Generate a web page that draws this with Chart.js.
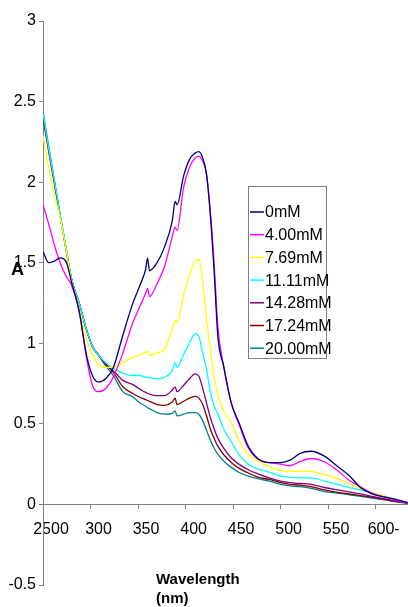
<!DOCTYPE html>
<html lang="en">
<head>
<meta charset="UTF-8">
<title>Absorbance spectra</title>
<script src="https://cdn.jsdelivr.net/npm/chart.js"></script>
<style>
    body { margin: 0; padding: 0; background: #fff; }
    #wrap { width: 408px; height: 607px; }
</style>
</head>
<body>
<div id="wrap"><canvas id="spectra" width="408" height="607"></canvas></div>
<script>
// wavelengths (nm) the spectra were read at
const wavelengths = [250,256,262,268,274,280,288,296,302,308, 316,324,334,344,352,358,360,362,370,378,
    386,389,391,398,404,410,414,418,422,426, 430,434,440,448,456,466,476,488,500,510,
    520,532,546,560,572,584,596,610,622,634];

const seriesNames = ['0mM', '4.00mM', '7.69mM', '11.11mM', '14.28mM', '17.24mM', '20.00mM'];
const seriesColors = ['#000080', '#FF00FF', '#FFFF00', '#00FFFF', '#800080', '#800000', '#008080'];

const abs0 = [1.57,1.50,1.51,1.53,1.51,1.38,1.20,0.92,0.80,0.76, 0.78,0.85,1.05,1.24,1.36,1.46,1.53,1.45,1.50,1.60,
    1.76,1.88,1.86,2.04,2.14,2.18,2.19,2.15,2.05,1.80, 1.45,1.04,0.86,0.63,0.51,0.36,0.285,0.26,0.26,0.275,
    0.315,0.33,0.30,0.235,0.18,0.105,0.065,0.045,0.03,0.01];
const abs400 = [1.86,1.74,1.61,1.50,1.42,1.36,1.20,0.90,0.74,0.70, 0.72,0.79,0.94,1.12,1.23,1.31,1.34,1.29,1.37,1.48,
    1.66,1.72,1.70,1.97,2.09,2.15,2.16,2.13,2.05,1.82, 1.50,1.10,0.86,0.63,0.50,0.35,0.28,0.26,0.25,0.24,
    0.265,0.285,0.265,0.21,0.15,0.11,0.07,0.045,0.025,0.01];
const abs769 = [2.29,2.09,1.92,1.78,1.59,1.39,1.22,1.02,0.93,0.87, 0.85,0.85,0.88,0.91,0.93,0.945,0.95,0.925,0.94,0.965,
    1.09,1.14,1.13,1.30,1.42,1.51,1.52,1.38,1.15,0.96, 0.79,0.68,0.58,0.51,0.40,0.31,0.27,0.235,0.21,0.205,
    0.205,0.205,0.185,0.16,0.13,0.10,0.075,0.05,0.03,0.01];
const abs1111 = [2.43,2.21,2.01,1.80,1.60,1.40,1.25,1.08,0.98,0.93, 0.88,0.845,0.815,0.80,0.80,0.79,0.79,0.785,0.78,0.79,
    0.83,0.88,0.85,0.93,1.00,1.06,1.04,0.94,0.84,0.70, 0.61,0.56,0.47,0.39,0.31,0.25,0.22,0.20,0.175,0.168,
    0.165,0.165,0.145,0.125,0.105,0.09,0.07,0.05,0.03,0.01];
const abs1428 = [2.40,2.19,1.99,1.79,1.59,1.40,1.25,1.08,0.98,0.93, 0.87,0.83,0.77,0.745,0.715,0.695,0.69,0.685,0.675,0.675,
    0.71,0.73,0.70,0.74,0.78,0.81,0.795,0.72,0.63,0.54, 0.47,0.41,0.35,0.29,0.25,0.215,0.19,0.165,0.145,0.135,
    0.13,0.125,0.105,0.09,0.078,0.065,0.05,0.035,0.02,0.01];
const abs1724 = [2.41,2.20,2.00,1.79,1.59,1.40,1.25,1.08,0.98,0.93, 0.87,0.82,0.73,0.69,0.665,0.65,0.645,0.64,0.62,0.615,
    0.635,0.66,0.62,0.64,0.66,0.67,0.66,0.62,0.55,0.47, 0.41,0.36,0.31,0.26,0.225,0.195,0.17,0.155,0.135,0.125,
    0.12,0.11,0.09,0.075,0.065,0.055,0.045,0.03,0.018,0.008];
const abs2000 = [2.44,2.22,2.01,1.80,1.60,1.40,1.25,1.08,0.98,0.93, 0.86,0.80,0.70,0.67,0.63,0.61,0.60,0.595,0.57,0.56,
    0.565,0.58,0.55,0.56,0.57,0.57,0.56,0.52,0.46,0.40, 0.35,0.31,0.27,0.23,0.20,0.175,0.16,0.145,0.125,0.115,
    0.11,0.10,0.08,0.07,0.06,0.05,0.04,0.028,0.016,0.007];

const allSeries = [abs0, abs400, abs769, abs1111, abs1428, abs1724, abs2000];

const xTickValues = [250, 300, 350, 400, 450, 500, 550, 600];
const xTickLabels = ['2500', '300', '350', '400', '450', '500', '550', '600-'];

const FONT = "'Liberation Sans', Arial, sans-serif";

// axis titles and the boxed legend sit inside the plot, so draw them by hand
const extrasPlugin = {
    id: 'extras',
    afterDraw(chart) {
        const ctx = chart.ctx;
        ctx.save();
        ctx.fillStyle = '#000';
        ctx.textBaseline = 'middle';
        ctx.textAlign = 'left';
        ctx.font = 'bold 18px ' + FONT;
        ctx.fillText('A', 11, 270);
        ctx.font = 'bold 15px ' + FONT;
        ctx.fillText('Wavelength', 156, 580);
        ctx.fillText('(nm)', 156, 599);

        // legend box
        ctx.fillStyle = '#fff';
        ctx.fillRect(248.5, 186.5, 78, 172);
        ctx.strokeStyle = '#808080';
        ctx.lineWidth = 1;
        ctx.strokeRect(248.5, 186.5, 78, 172);
        ctx.font = '16px ' + FONT;
        chart.data.datasets.forEach((ds, i) => {
            const y = 212 + i * 22.7;
            ctx.strokeStyle = ds.borderColor;
            ctx.lineWidth = 1.5;
            ctx.beginPath();
            ctx.moveTo(250, y);
            ctx.lineTo(264, y);
            ctx.stroke();
            ctx.fillStyle = '#000';
            ctx.fillText(ds.label, 265, y + 1);
        });
        ctx.restore();
    }
};

new Chart(document.getElementById('spectra'), {
    type: 'line',
    data: {
        datasets: allSeries.map((vals, i) => ({
            label: seriesNames[i],
            data: vals.map((v, j) => ({ x: wavelengths[j], y: v })),
            borderColor: seriesColors[i],
            borderWidth: 1.3,
            pointRadius: 0,
            cubicInterpolationMode: 'monotone',
            fill: false
        }))
    },
    options: {
        responsive: false,
        animation: false,
        layout: { padding: { left: 0, top: 21, right: 0, bottom: 22 } },
        plugins: { legend: { display: false }, tooltip: { enabled: false } },
        scales: {
            x: {
                type: 'linear',
                min: 250,
                max: 634,
                position: { y: 0 },
                border: { color: '#808080', width: 1 },
                grid: { drawOnChartArea: false, drawTicks: true, tickLength: 4, color: '#808080' },
                afterBuildTicks: (scale) => { scale.ticks = xTickValues.map(v => ({ value: v })); },
                ticks: {
                    color: '#000',
                    font: { family: FONT, size: 16 },
                    padding: 12,
                    labelOffset: 8,
                    maxRotation: 0,
                    autoSkip: false,
                    callback: (v) => xTickLabels[xTickValues.indexOf(v)]
                }
            },
            y: {
                min: -0.5,
                max: 3,
                border: { color: '#808080', width: 1 },
                grid: { drawOnChartArea: false, drawTicks: true, tickLength: 4, color: '#808080' },
                afterFit: (scale) => { scale.width = 43; },
                ticks: {
                    stepSize: 0.5,
                    color: '#000',
                    font: { family: FONT, size: 16 },
                    padding: 3,
                    callback: (v) => String(Number(v.toFixed(2)))
                }
            }
        }
    },
    plugins: [extrasPlugin]
});
</script>
</body>
</html>
